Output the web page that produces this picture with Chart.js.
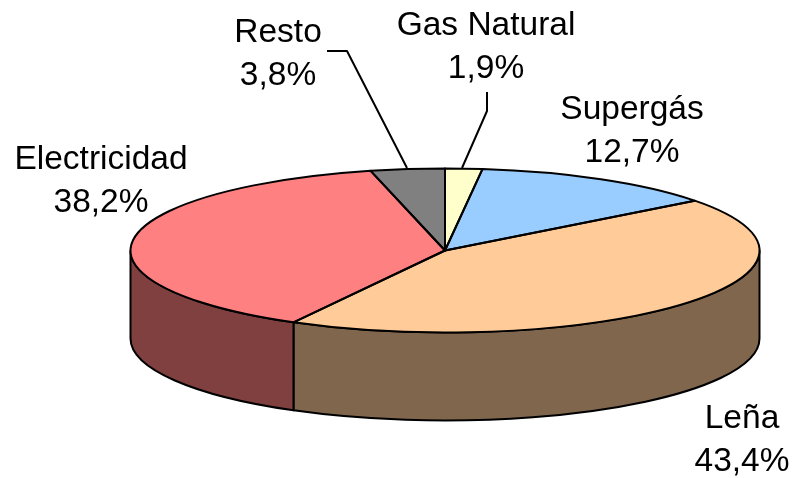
<!DOCTYPE html>
<html>
<head>
<meta charset="utf-8">
<script src="https://cdn.jsdelivr.net/npm/chart.js@4"></script>
<style>
  html, body { margin: 0; padding: 0; background: #fff; }
  #chart { display: block; }
</style>
</head>
<body>
<div style="width:794px;height:478px"><canvas id="chart" width="794" height="478"></canvas></div>
<script>
const categories = ["Gas Natural", "Supergás", "Leña", "Electricidad", "Resto"];
const shares = [1.9, 12.7, 43.4, 38.2, 3.8];

const topColors = ["#FFFFCC", "#99CCFF", "#FFCC99", "#FF8080", "#808080"];
const wallColors = ["#808066", "#4D6680", "#80664D", "#804040", "#404040"];

// pie is squashed into this ellipse, y is the top face centre
const pie = { x: 445, y: 250.5, rx: 314.5, ry: 82, depth: 88 };

const labelSpots = [
  { x: 486, y: 35 },
  { x: 632, y: 119 },
  { x: 742, y: 428 },
  { x: 101, y: 169 },
  { x: 278, y: 42 },
];
const leaders = [
  [[487, 92], [487, 111], [462, 168]],
  [[327, 51], [347, 51], [407, 168]],
];

const pctText = (v) => v.toFixed(1).replace(".", ",") + "%";

const squashedPie = {
  id: "squashedPie",
  beforeDatasetsDraw(chart) {
    const ctx = chart.ctx;
    const arcs = chart.getDatasetMeta(0).data;
    // side wall, only the part facing the viewer (0..PI in canvas angles)
    ctx.save();
    ctx.lineWidth = 2;
    ctx.lineJoin = "round";
    ctx.strokeStyle = "#000";
    arcs.forEach((arc, i) => {
      const a = Math.max(arc.startAngle, 0);
      const b = Math.min(arc.endAngle, Math.PI);
      if (b <= a) return;
      ctx.beginPath();
      ctx.ellipse(pie.x, pie.y, pie.rx, pie.ry, 0, a, b);
      ctx.ellipse(pie.x, pie.y + pie.depth, pie.rx, pie.ry, 0, b, a, true);
      ctx.closePath();
      ctx.fillStyle = wallColors[i];
      ctx.fill();
      ctx.stroke();
    });
    ctx.restore();
  },
  beforeDatasetDraw(chart) {
    const ctx = chart.ctx;
    const arc = chart.getDatasetMeta(0).data[0];
    ctx.save();
    ctx.translate(pie.x, pie.y);
    ctx.scale(pie.rx / arc.outerRadius, pie.ry / arc.outerRadius);
    ctx.translate(-arc.x, -arc.y);
  },
  afterDatasetDraw(chart) {
    chart.ctx.restore();
  },
  afterDatasetsDraw(chart) {
    const ctx = chart.ctx;
    const arcs = chart.getDatasetMeta(0).data;
    ctx.save();
    ctx.lineWidth = 2;
    ctx.lineJoin = "round";
    ctx.strokeStyle = "#000";
    arcs.forEach((arc) => {
      ctx.beginPath();
      ctx.moveTo(pie.x, pie.y);
      ctx.ellipse(pie.x, pie.y, pie.rx, pie.ry, 0, arc.startAngle, arc.endAngle);
      ctx.closePath();
      ctx.stroke();
    });
    leaders.forEach((pts) => {
      ctx.beginPath();
      pts.forEach((p, i) => (i ? ctx.lineTo(p[0], p[1]) : ctx.moveTo(p[0], p[1])));
      ctx.stroke();
    });
    ctx.fillStyle = "#000";
    ctx.font = "33.5px 'Liberation Sans'";
    ctx.textAlign = "center";
    ctx.textBaseline = "alphabetic";
    categories.forEach((name, i) => {
      const spot = labelSpots[i];
      ctx.fillText(name, spot.x, spot.y);
      ctx.fillText(pctText(shares[i]), spot.x, spot.y + 43);
    });
    ctx.restore();
  },
};

new Chart("chart", {
  type: "pie",
  data: {
    labels: categories,
    datasets: [
      {
        data: shares,
        backgroundColor: topColors,
        borderWidth: 0,
        clip: false,
      },
    ],
  },
  options: {
    responsive: false,
    animation: false,
    plugins: {
      legend: { display: false },
      tooltip: { enabled: false },
    },
  },
  plugins: [squashedPie],
});
</script>
</body>
</html>
